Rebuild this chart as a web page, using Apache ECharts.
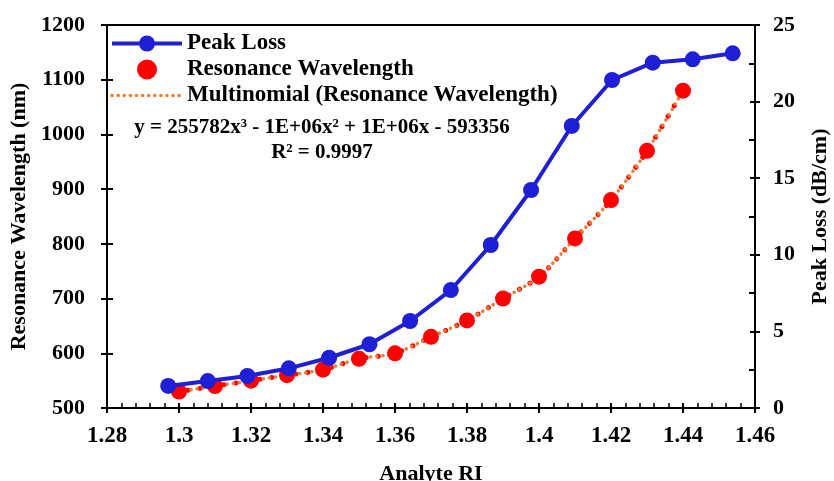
<!DOCTYPE html>
<html>
<head>
<meta charset="utf-8">
<script src="https://cdn.jsdelivr.net/npm/echarts@6/dist/echarts.min.js"></script>
<style>html,body{margin:0;padding:0;background:#fff}#c{width:834px;height:481px}</style>
</head>
<body>
<div id="c"></div>
<script>
// Peak Loss (right axis, dB/cm)
const peakLossRI = [1.297, 1.308, 1.319, 1.3305, 1.3417, 1.3529, 1.3642, 1.3755, 1.3866, 1.3978, 1.4091, 1.4203, 1.4316, 1.4427, 1.4538];
const peakLoss = [1.44, 1.76, 2.09, 2.59, 3.28, 4.16, 5.68, 7.70, 10.64, 14.23, 18.41, 21.41, 22.54, 22.76, 23.15];
// Resonance Wavelength (left axis, nm)
const resRI = [1.30, 1.31, 1.32, 1.33, 1.34, 1.35, 1.36, 1.37, 1.38, 1.39, 1.40, 1.41, 1.42, 1.43, 1.44];
const resWavelength = [530, 540, 550, 560, 570, 590, 600, 630, 660, 700, 740, 810, 880, 970, 1080];
const xTicks = {min: 1.28, max: 1.46, interval: 0.02};
const leftTicks = {min: 500, max: 1200, interval: 100};
const rightTicks = {min: 0, max: 25, interval: 5};
const equationText = ['y = 255782x³ - 1E+06x² + 1E+06x - 593356', 'R² = 0.9997'];

const FONT = '"Liberation Serif", "Times New Roman", serif';
const pair = (xs, ys) => xs.map((x, i) => [x, ys[i]]);
const chart = echarts.init(document.getElementById('c'));
const gridRect = {left: 107, right: 79, top: 25, bottom: 73, outerBoundsMode: 'none', containLabel: false};
const lbl = {fontFamily: FONT, fontWeight: 'bold', fontSize: 22, color: '#000'};
const line = {show: true, lineStyle: {color: '#000', width: 2}};
const nameStyle = {fontFamily: FONT, fontWeight: 'bold', fontSize: 22, color: '#000'};

chart.setOption({
  animation: false,
  grid: [
    Object.assign({show: true, borderColor: '#000', borderWidth: 2, backgroundColor: 'transparent'}, gridRect),
    Object.assign({show: false}, gridRect)
  ],
  legend: {
    orient: 'vertical', left: 105, top: 27, itemWidth: 70, itemHeight: 20, itemGap: 3,
    data: [
      {name: 'Peak Loss', lineStyle: {width: 4}},
      {name: 'Resonance Wavelength', itemStyle: {opacity: 1}},
      {name: 'Multinomial (Resonance Wavelength)', itemStyle: {opacity: 0, color: 'rgba(0,0,0,0)', borderWidth: 0},
       lineStyle: {width: 3.5, color: '#ed7d31', type: [0.1, 6], cap: 'round'}}
    ],
    textStyle: {fontFamily: FONT, fontWeight: 'bold', fontSize: 23, color: '#000'}
  },
  xAxis: [
    {type: 'value', gridIndex: 0, min: xTicks.min, max: xTicks.max, interval: xTicks.interval,
     axisLine: line, splitLine: {show: false},
     axisTick: {show: true, inside: false, length: 5, lineStyle: {color: '#000', width: 2}},
     axisLabel: Object.assign({}, lbl, {margin: 17, fontSize: 23, formatter: v => String(+v.toFixed(2))}),
     name: 'Analyte RI', nameLocation: 'middle', nameGap: 55, nameTextStyle: nameStyle},
    {type: 'value', gridIndex: 1, min: xTicks.min, max: xTicks.max, interval: xTicks.interval,
     axisLine: line, splitLine: {show: false}, axisLabel: {show: false},
     axisTick: {show: true, inside: true, length: 5, lineStyle: {color: '#000', width: 2}},
     minorTick: {show: true, splitNumber: 5, length: 5, lineStyle: {color: '#000', width: 1.5}}}
  ],
  yAxis: [
    {type: 'value', gridIndex: 0, position: 'left', min: leftTicks.min, max: leftTicks.max, interval: leftTicks.interval,
     axisLine: line, splitLine: {show: false},
     axisTick: {show: true, inside: false, length: 6, lineStyle: {color: '#000', width: 2}},
     axisLabel: Object.assign({}, lbl, {margin: 22, formatter: v => String(v)}),
     name: 'Resonance Wavelength (nm)', nameLocation: 'middle', nameGap: 71, nameRotate: 90, nameTextStyle: nameStyle},
    {type: 'value', gridIndex: 0, position: 'right', min: rightTicks.min, max: rightTicks.max, interval: rightTicks.interval,
     axisLine: line, splitLine: {show: false},
     axisTick: {show: true, inside: false, length: 5, lineStyle: {color: '#000', width: 2}},
     axisLabel: Object.assign({}, lbl, {margin: 18, formatter: v => String(v)}),
     name: 'Peak Loss (dB/cm)', nameLocation: 'middle', nameGap: 54, nameRotate: 90, nameTextStyle: nameStyle},
    {type: 'value', gridIndex: 1, position: 'left', min: leftTicks.min, max: leftTicks.max, interval: leftTicks.interval,
     axisLine: line, splitLine: {show: false}, axisLabel: {show: false},
     axisTick: {show: true, inside: true, length: 6, lineStyle: {color: '#000', width: 2}}},
    {type: 'value', gridIndex: 1, position: 'right', min: rightTicks.min, max: rightTicks.max, interval: rightTicks.interval,
     axisLine: line, splitLine: {show: false}, axisLabel: {show: false},
     axisTick: {show: true, inside: true, length: 5, lineStyle: {color: '#000', width: 2}},
     minorTick: {show: true, splitNumber: 2, length: 6, lineStyle: {color: '#000', width: 2}}}
  ],
  graphic: [
    {type: 'text', x: 322, y: 128, style: {text: equationText[0], align: 'center', verticalAlign: 'middle', font: 'bold 21px ' + FONT, fill: '#000'}},
    {type: 'text', x: 322, y: 153, style: {text: equationText[1], align: 'center', verticalAlign: 'middle', font: 'bold 21px ' + FONT, fill: '#000'}}
  ],
  series: [
    {name: 'Multinomial (Resonance Wavelength)', type: 'line', xAxisIndex: 0, yAxisIndex: 0, smooth: 0.3,
     symbol: 'none', data: pair(resRI, resWavelength), z: 3,
     itemStyle: {color: '#ed7d31'},
     lineStyle: {color: '#ed7d31', width: 3.5, type: [0.1, 6], cap: 'round'}},
    {name: '_resdots', type: 'line', xAxisIndex: 0, yAxisIndex: 0, smooth: 0.3, silent: true,
     symbol: 'none', data: pair(resRI, resWavelength), z: 2,
     lineStyle: {color: '#ff0000', width: 5, type: [0.1, 12], dashOffset: 3, cap: 'round'}},
    {name: 'Resonance Wavelength', type: 'scatter', xAxisIndex: 0, yAxisIndex: 0,
     symbol: 'circle', symbolSize: 16, data: pair(resRI, resWavelength), z: 4,
     itemStyle: {color: '#ff0000', opacity: 1}},
    {name: 'Peak Loss', type: 'line', xAxisIndex: 0, yAxisIndex: 1,
     symbol: 'circle', symbolSize: 16, data: pair(peakLossRI, peakLoss), z: 5,
     itemStyle: {color: '#1f1fd6'},
     lineStyle: {color: '#1f1fd6', width: 4}}
  ]
});
</script>
</body>
</html>
